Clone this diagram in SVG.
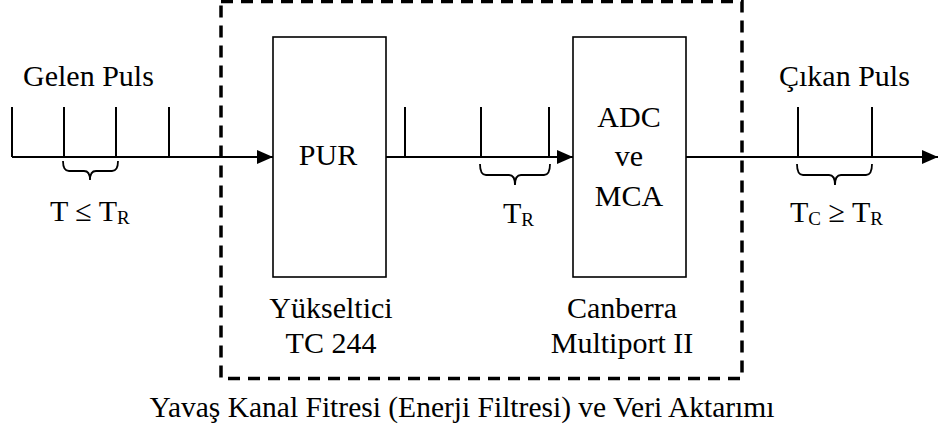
<svg xmlns="http://www.w3.org/2000/svg" width="938" height="434" viewBox="0 0 938 434">
<style>
.t{font-family:"Liberation Serif","Times New Roman",serif;font-size:30px;fill:#000}
.s{font-size:19px}
.ln{stroke:#000;stroke-width:2;fill:none}
.bx{stroke:#000;stroke-width:1.6;fill:#fff}
.br{stroke:#000;stroke-width:1.8;fill:none}
</style>
<defs>
<marker id="ah" markerWidth="16" markerHeight="14" refX="16" refY="7" orient="auto" markerUnits="userSpaceOnUse">
<path d="M0,0 L16,7 L0,14 Z" fill="#000"/>
</marker>
</defs>
<rect width="938" height="434" fill="#fff"/>
<g id="frame">
<rect x="221" y="1.5" width="521" height="377" fill="none" stroke="#000" stroke-width="3.5" stroke-dasharray="12,8"/>
</g>
<g id="connectors">
<line class="ln" x1="12" y1="157" x2="273" y2="157" marker-end="url(#ah)"/>
<line class="ln" x1="12" y1="107" x2="12" y2="157"/>
<line class="ln" x1="64" y1="107" x2="64" y2="157"/>
<line class="ln" x1="116" y1="107" x2="116" y2="157"/>
<line class="ln" x1="169" y1="107" x2="169" y2="157"/>
<path class="br" d="M63,161 Q63,171 69,171 L84,171 Q90,171 90,180 Q90,171 96,171 L112,171 Q118,171 118,161"/>
<line class="ln" x1="386" y1="157" x2="573" y2="157" marker-end="url(#ah)"/>
<line class="ln" x1="405" y1="107" x2="405" y2="157"/>
<line class="ln" x1="481" y1="107" x2="481" y2="157"/>
<line class="ln" x1="549" y1="107" x2="549" y2="157"/>
<path class="br" d="M480,164 Q480,175 486,175 L509,175 Q515,175 515,185 Q515,175 521,175 L544,175 Q550,175 550,164"/>
<line class="ln" x1="686" y1="157" x2="938" y2="157" marker-end="url(#ah)"/>
<line class="ln" x1="798" y1="107" x2="798" y2="157"/>
<line class="ln" x1="872" y1="107" x2="872" y2="157"/>
<path class="br" d="M797,164 Q797,175 803,175 L829,175 Q835,175 835,185 Q835,175 841,175 L866,175 Q872,175 872,164"/>
</g>
<g id="pur">
<rect class="bx" x="273" y="37" width="113" height="240"/>
<text class="t" x="328" y="165" text-anchor="middle">PUR</text>
<text class="t" x="331" y="318" text-anchor="middle">Yükseltici</text>
<text class="t" x="331" y="353" text-anchor="middle">TC 244</text>
</g>
<g id="adc">
<rect class="bx" x="573" y="37" width="113" height="240"/>
<text class="t" x="629" y="127" text-anchor="middle">ADC</text>
<text class="t" x="629" y="166" text-anchor="middle">ve</text>
<text class="t" x="629" y="206" text-anchor="middle">MCA</text>
<text class="t" x="622" y="318" text-anchor="middle">Canberra</text>
<text class="t" x="622" y="353" text-anchor="middle">Multiport II</text>
</g>
<g id="labels">
<text class="t" x="23" y="86">Gelen Puls</text>
<text class="t" x="779" y="86">Çıkan Puls</text>
<text class="t" x="50" y="221">T ≤ T<tspan class="s" dy="3">R</tspan></text>
<text class="t" x="503" y="223">T<tspan class="s" dy="3">R</tspan></text>
<text class="t" x="790" y="222">T<tspan class="s" dy="3">C</tspan><tspan dy="-3"> ≥ T</tspan><tspan class="s" dy="3">R</tspan></text>
<text class="t" x="462" y="417" text-anchor="middle" style="font-size:29.5px">Yavaş Kanal Fitresi (Enerji Filtresi) ve Veri Aktarımı</text>
</g>
</svg>
